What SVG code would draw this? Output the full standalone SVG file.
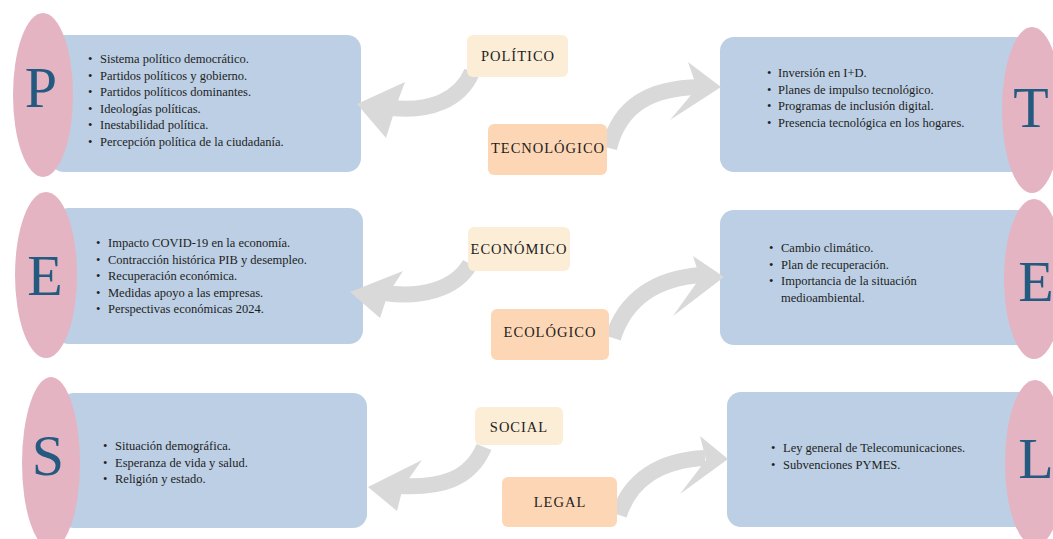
<svg xmlns="http://www.w3.org/2000/svg" width="1053" height="539" viewBox="0 0 1053 539">
<style>
.bg{fill:#ffffff}
.box{fill:#bccfe4}
.oval{fill:#e4b4c2}
.big{font-family:"Liberation Serif","DejaVu Serif",serif;font-size:58px;fill:#245a7f;text-anchor:middle}
.item{font-family:"Liberation Serif","DejaVu Serif",serif;font-size:12.5px;fill:#1e1e1e}
.lab{font-family:"Liberation Serif","DejaVu Serif",serif;font-size:14.5px;fill:#1e1e1e;letter-spacing:1px;text-anchor:middle}
.cream{fill:#fbedd6}
.peach{fill:#fdd7b5}
.body{fill:none;stroke:#d9d9d9;stroke-width:16}
.head{fill:#d9d9d9}
</style>
<rect class="bg" x="0" y="0" width="1053" height="539"/>

<g id="P">
<rect class="box" x="50" y="35" width="311" height="137" rx="14"/>
<ellipse class="oval" cx="43" cy="95" rx="30" ry="82"/>
<text class="big" x="41" y="107">P</text>
<g class="item">
<text x="88" y="63">•</text><text x="100" y="63">Sistema político democrático.</text>
<text x="88" y="79.5">•</text><text x="100" y="79.5">Partidos políticos y gobierno.</text>
<text x="88" y="96">•</text><text x="100" y="96">Partidos políticos dominantes.</text>
<text x="88" y="112.5">•</text><text x="100" y="112.5">Ideologías políticas.</text>
<text x="88" y="129">•</text><text x="100" y="129">Inestabilidad política.</text>
<text x="88" y="145.5">•</text><text x="100" y="145.5">Percepción política de la ciudadanía.</text>
</g>
</g>

<g id="E1">
<rect class="box" x="55" y="208" width="308" height="136" rx="14"/>
<ellipse class="oval" cx="46" cy="275" rx="31" ry="83"/>
<text class="big" x="45" y="295">E</text>
<g class="item">
<text x="96" y="247">•</text><text x="108" y="247">Impacto COVID-19 en la economía.</text>
<text x="96" y="263.5">•</text><text x="108" y="263.5">Contracción histórica PIB y desempleo.</text>
<text x="96" y="280">•</text><text x="108" y="280">Recuperación económica.</text>
<text x="96" y="296.5">•</text><text x="108" y="296.5">Medidas apoyo a las empresas.</text>
<text x="96" y="313">•</text><text x="108" y="313">Perspectivas económicas 2024.</text>
</g>
</g>

<g id="S">
<rect class="box" x="60" y="393" width="307" height="135" rx="14"/>
<ellipse class="oval" cx="51" cy="463" rx="29" ry="86"/>
<text class="big" x="48" y="475">S</text>
<g class="item">
<text x="103" y="450">•</text><text x="115" y="450">Situación demográfica.</text>
<text x="103" y="466.5">•</text><text x="115" y="466.5">Esperanza de vida y salud.</text>
<text x="103" y="483">•</text><text x="115" y="483">Religión y estado.</text>
</g>
</g>

<g id="T">
<rect class="box" x="720" y="37" width="315" height="135" rx="14"/>
<ellipse class="oval" cx="1032" cy="110" rx="30" ry="83"/>
<text class="big" x="1031" y="127">T</text>
<g class="item">
<text x="767" y="77">•</text><text x="778" y="77">Inversión en I+D.</text>
<text x="767" y="93.5">•</text><text x="778" y="93.5">Planes de impulso tecnológico.</text>
<text x="767" y="110">•</text><text x="778" y="110">Programas de inclusión digital.</text>
<text x="767" y="126.5">•</text><text x="778" y="126.5">Presencia tecnológica en los hogares.</text>
</g>
</g>

<g id="E2">
<rect class="box" x="720" y="210" width="315" height="135" rx="14"/>
<ellipse class="oval" cx="1034" cy="279" rx="30" ry="80"/>
<text class="big" x="1036" y="301">E</text>
<g class="item">
<text x="769" y="252">•</text><text x="781" y="252">Cambio climático.</text>
<text x="769" y="268.5">•</text><text x="781" y="268.5">Plan de recuperación.</text>
<text x="769" y="285">•</text><text x="781" y="285">Importancia de la situación</text>
<text x="781" y="301.5">medioambiental.</text>
</g>
</g>

<g id="L">
<rect class="box" x="727" y="392" width="308" height="135" rx="14"/>
<ellipse class="oval" cx="1035" cy="463" rx="30" ry="83"/>
<text class="big" x="1036" y="478">L</text>
<g class="item">
<text x="771" y="452">•</text><text x="783" y="452">Ley general de Telecomunicaciones.</text>
<text x="771" y="468.5">•</text><text x="783" y="468.5">Subvenciones PYMES.</text>
</g>
</g>

<g id="connectors">
<path class="body" d="M472 72 C460 100 430 112 392 108"/>
<path class="head" d="M357 104 L405 82 L396 106 L386 138 Z"/>
<path class="body" d="M609 148 C620 105 650 88 700 87"/>
<path class="head" d="M721 87 L688 62 L697 88 L670 120 Z"/>
<path class="body" d="M470 264 C455 290 420 298 385 293"/>
<path class="head" d="M350 292 L403 271 L388 294 L380 318 Z"/>
<path class="body" d="M613 338 C625 300 655 278 702 275"/>
<path class="head" d="M724 277 L693 256 L700 278 L673 316 Z"/>
<path class="body" d="M484 447 C470 480 440 488 400 486"/>
<path class="head" d="M368 487 L422 460 L403 487 L397 511 Z"/>
<path class="body" d="M619 515 C630 480 660 460 705 458"/>
<path class="head" d="M728 459 L700 436 L706 460 L680 494 Z"/>
</g>

<g id="POLITICO">
<rect class="cream" x="467" y="35" width="101" height="42" rx="6"/>
<text class="lab" x="518" y="61">POLÍTICO</text>
</g>
<g id="TECNOLOGICO">
<rect class="peach" x="488" y="124" width="119" height="51" rx="6"/>
<text class="lab" x="548" y="153">TECNOLÓGICO</text>
</g>
<g id="ECONOMICO">
<rect class="cream" x="468" y="227" width="102" height="44" rx="6"/>
<text class="lab" x="519" y="254">ECONÓMICO</text>
</g>
<g id="ECOLOGICO">
<rect class="peach" x="491" y="309" width="118" height="51" rx="6"/>
<text class="lab" x="550" y="337">ECOLÓGICO</text>
</g>
<g id="SOCIAL">
<rect class="cream" x="475" y="407" width="88" height="38" rx="6"/>
<text class="lab" x="519" y="432">SOCIAL</text>
</g>
<g id="LEGAL">
<rect class="peach" x="502" y="477" width="115" height="50" rx="6"/>
<text class="lab" x="560" y="507">LEGAL</text>
</g>
</svg>
